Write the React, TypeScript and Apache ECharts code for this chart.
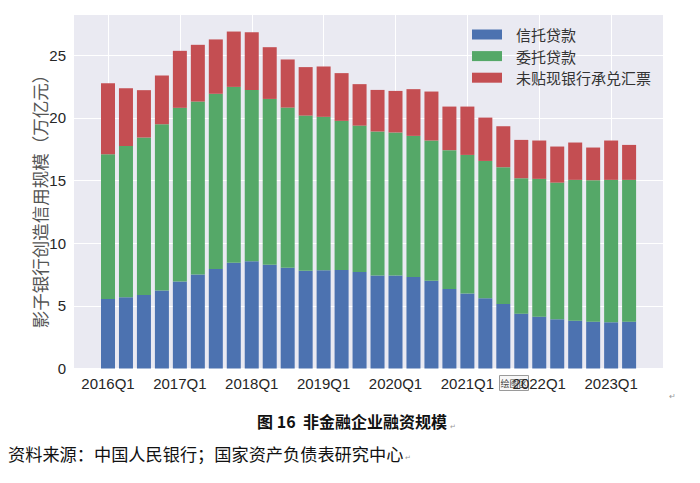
import React, { useEffect, useRef } from "react";
import * as echarts from "echarts";

const quarters = [
  "2016Q1", "2016Q2", "2016Q3", "2016Q4",
  "2017Q1", "2017Q2", "2017Q3", "2017Q4",
  "2018Q1", "2018Q2", "2018Q3", "2018Q4",
  "2019Q1", "2019Q2", "2019Q3", "2019Q4",
  "2020Q1", "2020Q2", "2020Q3", "2020Q4",
  "2021Q1", "2021Q2", "2021Q3", "2021Q4",
  "2022Q1", "2022Q2", "2022Q3", "2022Q4",
  "2023Q1", "2023Q2",
];

// 信托贷款
const trustLoans = [
  5.55, 5.69, 5.87, 6.22, 6.94, 7.5, 7.95, 8.45,
  8.56, 8.29, 8.05, 7.81, 7.84, 7.87, 7.71, 7.42,
  7.42, 7.31, 7.01, 6.35, 5.98, 5.6, 5.15, 4.38,
  4.14, 3.93, 3.82, 3.74, 3.69, 3.74,
];

// 委托贷款
const entrustedLoans = [
  11.56, 12.08, 12.57, 13.28, 13.87, 13.81, 13.98, 14.03,
  13.68, 13.23, 12.78, 12.38, 12.25, 11.9, 11.68, 11.5,
  11.42, 11.26, 11.19, 11.08, 11.07, 10.97, 10.92, 10.81,
  11.0, 10.91, 11.24, 11.29, 11.37, 11.32,
];

// 未贴现银行承兑汇票
const undiscountedBills = [
  5.67, 4.61, 3.78, 3.89, 4.55, 4.53, 4.34, 4.42,
  4.61, 4.13, 3.84, 3.87, 4.02, 3.81, 3.31, 3.32,
  3.32, 3.73, 3.91, 3.48, 3.86, 3.46, 3.27, 3.06,
  3.06, 2.88, 2.98, 2.61, 3.14, 2.79,
];

const seriesNames = ["信托贷款", "委托贷款", "未贴现银行承兑汇票"];
const seriesColors = ["#4C72B0", "#55A868", "#C44E52"];

const yMin = 0;
const yMax = 28.3;
const yInterval = 5;

const latin = "'Liberation Sans', Arial, 'Noto Sans CJK SC', sans-serif";
const cjk = "'Noto Sans CJK SC', 'Liberation Sans', sans-serif";

export default function App() {
  const ref = useRef<HTMLDivElement>(null);

  useEffect(() => {
    if (!ref.current) return;
    const chart = echarts.init(ref.current, undefined, { renderer: "svg" });
    const dataSets = [trustLoans, entrustedLoans, undiscountedBills];

    chart.setOption({
      animation: false,
      backgroundColor: "#ffffff",
      textStyle: { fontFamily: latin },
      grid: [
        {
          left: 74, right: 37, top: 14, bottom: 114.5,
          show: true, backgroundColor: "#EAEAF2", borderWidth: 0,
        },
        { left: 108, right: 70.9, top: 14, bottom: 114.5 },
      ],
      xAxis: [
        { gridIndex: 0, type: "value", min: 0, max: 1, show: false },
        {
          gridIndex: 1,
          type: "category",
          data: quarters,
          boundaryGap: false,
          axisLine: { show: false },
          axisTick: { show: false },
          axisLabel: { interval: 3, fontSize: 15, color: "#262626", margin: 7, fontFamily: latin },
          splitLine: { show: true, interval: 3, lineStyle: { color: "#ffffff", width: 1 } },
        },
      ],
      yAxis: [
        {
          gridIndex: 0,
          type: "value",
          min: yMin,
          max: yMax,
          interval: yInterval,
          axisLine: { show: false },
          axisTick: { show: false },
          axisLabel: {
            fontSize: 15,
            color: "#262626",
            margin: 8,
            fontFamily: latin,
            formatter: (v: number) => (Math.abs(v % yInterval) < 1e-9 ? String(v) : ""),
          },
          splitLine: { show: true, lineStyle: { color: "#ffffff", width: 1 } },
        },
        { gridIndex: 1, type: "value", min: yMin, max: yMax, show: false },
      ],
      legend: {
        orient: "vertical",
        left: 472,
        top: 27,
        padding: 0,
        itemWidth: 30,
        itemHeight: 10,
        itemGap: 6.6,
        icon: "rect",
        data: seriesNames,
        textStyle: { fontSize: 15, color: "#333333", fontFamily: cjk, padding: [0, 0, 0, 9] },
      },
      series: seriesNames.map((name, i) => ({
        name,
        type: "bar",
        stack: "total",
        xAxisIndex: 1,
        yAxisIndex: 1,
        data: dataSets[i],
        barWidth: 14,
        clip: false,
        itemStyle: { color: seriesColors[i] },
      })),
      graphic: [
        {
          type: "text",
          x: 39,
          y: 197,
          rotation: Math.PI / 2,
          style: {
            text: "影子银行创造信用规模（万亿元）",
            fontSize: 17.5,
            fill: "#555555",
            align: "center",
            verticalAlign: "middle",
            fontFamily: cjk,
          },
        },
        {
          type: "group",
          z: 100,
          children: [
            {
              type: "rect",
              shape: { x: 499.5, y: 375.5, width: 29, height: 15 },
              style: { fill: "#f7f7f7", stroke: "#9a9a9a", lineWidth: 1 },
            },
            {
              type: "text",
              x: 514,
              y: 383,
              style: {
                text: "绘图区",
                fontSize: 9,
                fill: "#444444",
                align: "center",
                verticalAlign: "middle",
                fontFamily: cjk,
              },
            },
          ],
        },
        {
          type: "text",
          x: 672,
          y: 396,
          style: { text: "↵", fontSize: 8, fill: "#999999", align: "center", verticalAlign: "middle" },
        },
        {
          type: "text",
          x: 352,
          y: 421,
          style: {
            text: "图 16  非金融企业融资规模",
            fontSize: 16,
            fontWeight: "bold",
            fill: "#111111",
            align: "center",
            verticalAlign: "middle",
            fontFamily: cjk,
          },
        },
        {
          type: "text",
          x: 453,
          y: 426,
          style: { text: "↵", fontSize: 7, fill: "#999999", align: "center", verticalAlign: "middle" },
        },
        {
          type: "text",
          x: 8,
          y: 453,
          style: {
            text: "资料来源：中国人民银行；国家资产负债表研究中心",
            fontSize: 17.2,
            fill: "#111111",
            align: "left",
            verticalAlign: "middle",
            fontFamily: cjk,
          },
        },
        {
          type: "text",
          x: 408,
          y: 457,
          style: { text: "↵", fontSize: 7, fill: "#999999", align: "center", verticalAlign: "middle" },
        },
      ],
    });

    return () => chart.dispose();
  }, []);

  return (
    <div
      ref={ref}
      style={{ position: "absolute", left: 0, top: 0, width: 700, height: 483 }}
    />
  );
}
